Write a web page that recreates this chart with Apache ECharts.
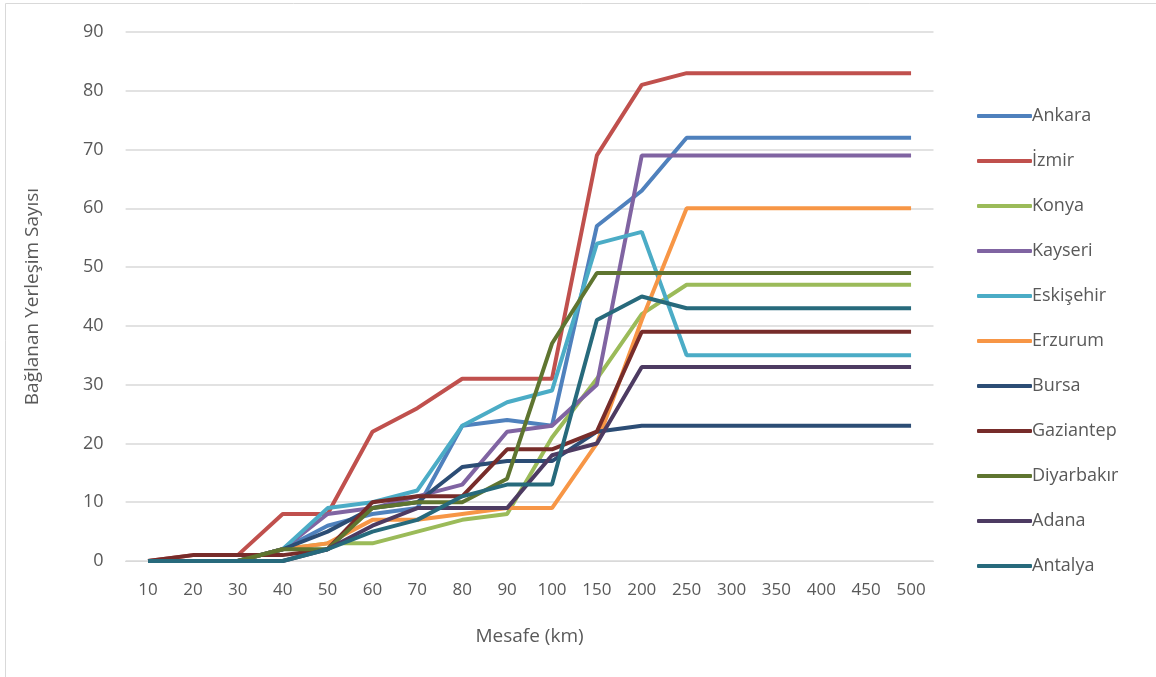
<!DOCTYPE html>
<html>
<head>
<meta charset="utf-8">
<script src="https://cdn.jsdelivr.net/npm/echarts@6/dist/echarts.min.js"></script>
<style>
  html, body { margin: 0; padding: 0; background: #fff; }
  #main { width: 1156px; height: 677px; }
</style>
</head>
<body>
<div id="main"></div>
<script>
// kategoriler (km)
var mesafe = ['10','20','30','40','50','60','70','80','90','100','150','200','250','300','350','400','450','500'];

var ankara     = [0,0,0,2,6,8,9,23,24,23,57,63,72,72,72,72,72,72];
var izmir      = [0,1,1,8,8,22,26,31,31,31,69,81,83,83,83,83,83,83];
var konya      = [0,0,0,2,3,3,5,7,8,21,31,42,47,47,47,47,47,47];
var kayseri    = [0,0,0,2,8,9,11,13,22,23,30,69,69,69,69,69,69,69];
var eskisehir  = [0,0,0,2,9,10,12,23,27,29,54,56,35,35,35,35,35,35];
var erzurum    = [0,0,0,2,3,7,7,8,9,9,20,41,60,60,60,60,60,60];
var bursa      = [0,0,0,2,5,9,10,16,17,17,22,23,23,23,23,23,23,23];
var gaziantep  = [0,1,1,1,2,10,11,11,19,19,22,39,39,39,39,39,39,39];
var diyarbakir = [0,0,0,2,2,9,10,10,14,37,49,49,49,49,49,49,49,49];
var adana      = [0,0,0,0,2,6,9,9,9,18,20,33,33,33,33,33,33,33];
var antalya    = [0,0,0,0,2,5,7,11,13,13,41,45,43,43,43,43,43,43];

var sehirler = ['Ankara','İzmir','Konya','Kayseri','Eskişehir','Erzurum','Bursa','Gaziantep','Diyarbakır','Adana','Antalya'];
var veriler = [ankara, izmir, konya, kayseri, eskisehir, erzurum, bursa, gaziantep, diyarbakir, adana, antalya];
var renkler = ['#4F81BD','#C0504D','#9BBB59','#8064A2','#4BACC6','#F79646','#2C4D75','#772C2A','#5F7530','#4D3B62','#276A7C'];

var yTicks = [0, 10, 20, 30, 40, 50, 60, 70, 80, 90];

var myChart = echarts.init(document.getElementById('main'));

var font = '"Open Sans", sans-serif';

var series = [];
for (var i = 0; i < sehirler.length; i++) {
    series.push({
        name: sehirler[i],
        type: 'line',
        data: veriler[i],
        symbol: 'none',
        lineStyle: { width: 4, color: renkler[i] },
        itemStyle: { color: renkler[i] }
    });
}

var option = {
    animation: false,
    color: renkler,
    graphic: [{
        type: 'rect',
        shape: { x: 5.5, y: 3.5, width: 1160, height: 680 },
        style: { fill: 'none', stroke: '#d9d9d9', lineWidth: 1 }
    }],
    grid: { left: 125.6, right: 222.5, top: 32, bottom: 116 },
    legend: {
        orient: 'vertical',
        left: 972,
        top: 101,
        itemWidth: 55,
        itemHeight: 4,
        itemGap: 25,
        icon: 'roundRect',
        textStyle: { fontFamily: font, fontSize: 18, color: '#595959', lineHeight: 20, padding: [0, 0, 0, -5] },
        data: sehirler
    },
    xAxis: {
        type: 'category',
        data: mesafe,
        boundaryGap: true,
        name: 'Mesafe (km)',
        nameLocation: 'middle',
        nameGap: 66,
        nameTextStyle: { fontFamily: font, fontSize: 19, color: '#595959' },
        axisLine: { show: true, lineStyle: { color: '#d9d9d9', width: 1 } },
        axisTick: { show: false },
        axisLabel: { fontFamily: font, fontSize: 17, color: '#595959', margin: 21, interval: 0 }
    },
    yAxis: {
        type: 'value',
        min: yTicks[0],
        max: yTicks[yTicks.length - 1],
        interval: 10,
        name: 'Bağlanan Yerleşim Sayısı',
        nameLocation: 'middle',
        nameGap: 84,
        nameTextStyle: { fontFamily: font, fontSize: 19, color: '#595959' },
        axisLine: { show: false },
        axisTick: { show: false },
        axisLabel: { fontFamily: font, fontSize: 18, color: '#595959', margin: 22 },
        splitLine: { lineStyle: { color: '#d9d9d9', width: 1.5 } }
    },
    series: series
};

myChart.setOption(option);
</script>
</body>
</html>
